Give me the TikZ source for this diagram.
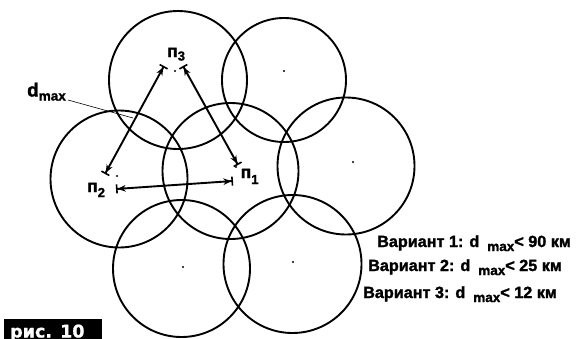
\documentclass[tikz,border=0pt]{standalone}
\usepackage{fontspec}
\setmainfont{Liberation Sans}
\newfontfamily\bsans[FakeBold=1.6]{Liberation Sans Bold}
\newfontfamily\figfont[FakeBold=1]{DejaVu Sans Bold}
\usetikzlibrary{arrows.meta}
\begin{document}
\begin{tikzpicture}[x=1pt,y=-1pt,
  cell/.style={line width=1.9pt},
  ctr/.style={circle,fill=black,inner sep=0pt,minimum size=2.4pt},
  dim/.style={line width=1.9pt,
    {Bar[width=9pt,line width=1.6pt,sep=0pt]Stealth[length=8pt,width=6.5pt,sep=0pt]}-{Stealth[length=8pt,width=6.5pt,sep=0pt]Bar[width=9pt,line width=1.6pt,sep=0pt]}},
  lbl/.style={font=\bsans\fontsize{17.5}{19}\selectfont,inner sep=0pt,anchor=base west},
  var/.style={font=\bsans\fontsize{16.2}{18}\selectfont,inner sep=0pt,anchor=base west},
]
\useasboundingbox (0,0) rectangle (581,338);
\clip (0,0) rectangle (581,338);
\fill[white] (0,0) rectangle (581,338);
% circles
\draw[cell] (178,80) circle[radius=69pt];
\draw[cell] (284,80) circle[radius=62pt];
\draw[cell] (119,179) circle[radius=68.5pt];
\draw[cell] (230.5,171) circle[radius=68pt];
\draw[cell] (346,166) circle[radius=68.5pt];
\draw[cell] (181.5,268.5) circle[radius=68.5pt];
\draw[cell] (292.5,264) circle[radius=69pt];
% centre dots
\node[ctr] (c3) at (175,71) {};
\node[ctr] (c2) at (117,176) {};
\node[ctr] (c1) at (236,167) {};
\node[ctr] (cb) at (284,71) {};
\node[ctr] (ce) at (353,162) {};
\node[ctr] (cf) at (183,267) {};
\node[ctr] (cg) at (293,262) {};
% arrow end points
\coordinate (p3l) at (164,66);
\coordinate (p3r) at (183,66);
\coordinate (p2a) at (105,174);
\coordinate (p1a) at (238,165);
\coordinate (p2b) at (116,189);
\coordinate (p1b) at (233,181);
\draw[dim] (p3l) -- (p2a);
\draw[dim] (p3r) -- (p1a);
\draw[dim] (p2b) -- (p1b);
% labels
\node[lbl] (n3) at (167,57) {п\raisebox{-3.5pt}{\fontsize{13}{14}\selectfont 3}};
\node[lbl] (n1) at (240.5,178) {п\raisebox{-6pt}{\fontsize{13}{14}\selectfont 1}};
\node[lbl] (n2) at (87,192) {п\raisebox{-5pt}{\fontsize{13}{14}\selectfont 2}};
\node[inner sep=0pt,anchor=base west,font=\bsans\fontsize{19}{20}\selectfont] (dm) at (27,96.5) {d\raisebox{-4pt}{\fontsize{13.5}{14}\selectfont max}};
\coordinate (dmend) at (133,118);
\draw[line width=0.6pt] (68,100) -- (dmend);
% variants
\node[var] (v1) at (377,247) {Вариант 1: d\hspace{8pt}\raisebox{-4pt}{\fontsize{13.5}{14}\selectfont max}< 90 км};
\node[var] (v2) at (368,271) {Вариант 2: d\hspace{8pt}\raisebox{-4pt}{\fontsize{13.5}{14}\selectfont max}< 25 км};
\node[var] (v3) at (363,298) {Вариант 3: d\hspace{8pt}\raisebox{-4pt}{\fontsize{13.5}{14}\selectfont max}< 12 км};
% figure tag
\node[fill=black,anchor=north west,inner sep=0pt,minimum width=98pt,minimum height=22pt] (tag) at (4,319) {};
\node[inner sep=0pt,anchor=base west,text=white,font=\figfont\fontsize{17.5}{19}\selectfont] (tagtxt) at (10,337.5) {рис. 10};
\end{tikzpicture}
\end{document}
